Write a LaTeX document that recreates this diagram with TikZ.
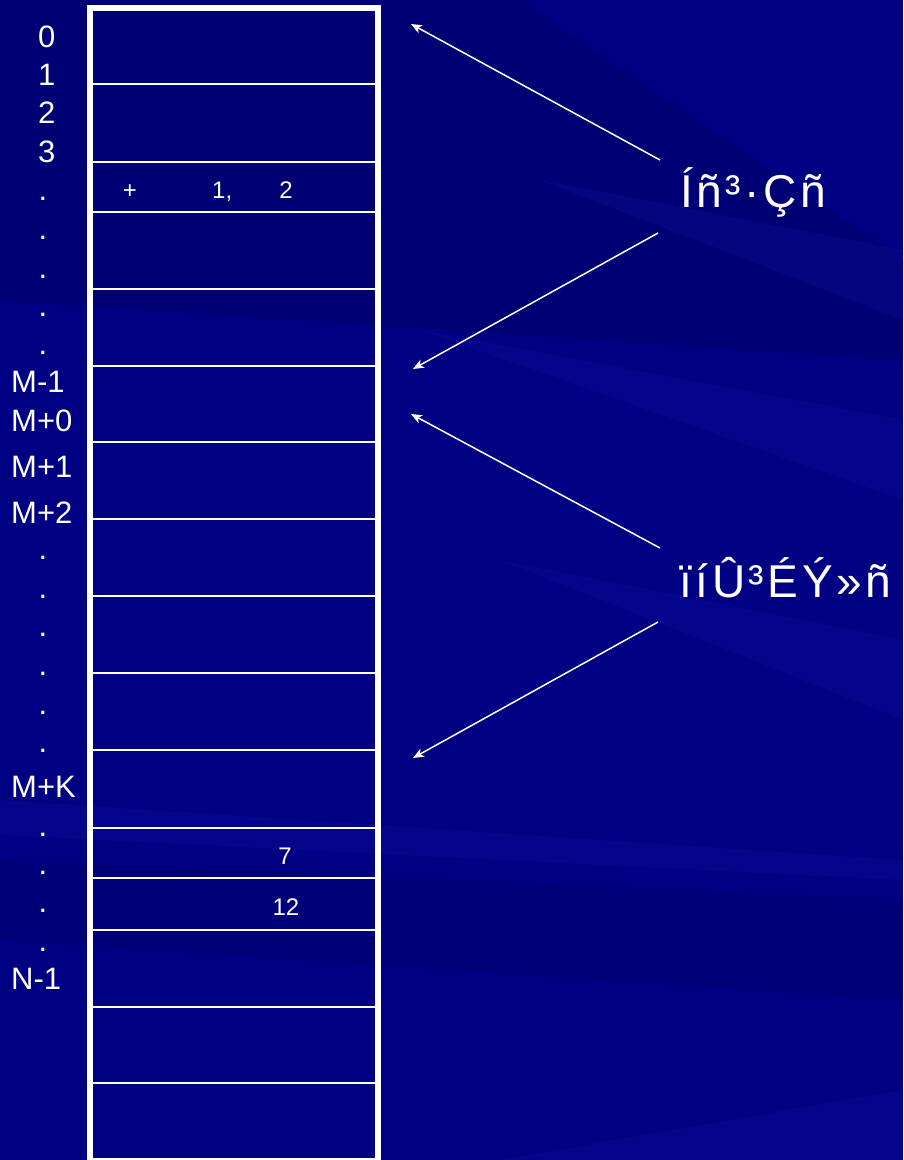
\documentclass[tikz,border=0pt]{standalone}
\usepackage{fontspec}
\setmainfont{Liberation Sans}
\usetikzlibrary{arrows.meta}
\definecolor{bgbase}{RGB}{0,0,130}
\definecolor{bgdark}{RGB}{0,0,95}
\definecolor{bglight}{RGB}{40,40,200}
\begin{document}
\begin{tikzpicture}[x=1pt,y=-1pt,
  lbl/.style={text=white,font=\fontsize{31}{36}\selectfont,anchor=base west,inner sep=0pt},
  cell/.style={text=white,font=\fontsize{24}{28}\selectfont,anchor=base,inner sep=0pt},
  big/.style={text=white,font=\fontsize{46}{52}\selectfont\addfontfeature{LetterSpace=8},anchor=base west,inner sep=0pt},
  ptr/.style={draw=white,line width=1.5pt,-{Stealth[length=11pt,width=9pt,inset=3pt]}},
  rowline/.style={draw=white,line width=2.5pt},
  streak/.style={fill=bglight,opacity=0.14},
  shade/.style={fill=bgdark,opacity=0.35}]
\useasboundingbox (0,0) rectangle (903,1160);
\clip (0,0) rectangle (903,1160);
% background
\fill[bgbase] (0,0) rectangle (903,1160);
\fill[shade] (0,0) -- (520,0) -- (903,260) -- (903,330) -- (0,130) -- cycle;
\fill[shade] (0,130) -- (903,330) -- (903,360) -- (0,300) -- cycle;
\fill[streak] (540,180) -- (903,250) -- (903,320) -- cycle;
\fill[streak] (420,330) -- (903,420) -- (903,500) -- cycle;
\fill[streak] (500,560) -- (903,640) -- (903,720) -- cycle;
\fill[streak] (0,800) -- (903,860) -- (903,880) -- (0,835) -- cycle;
\fill[streak] (500,1160) -- (903,1090) -- (903,1160) -- cycle;
\fill[bgdark,opacity=0.25] (0,860) -- (903,900) -- (903,1000) -- (0,940) -- cycle;
% memory box
\draw[white,line width=6pt] (90,8) rectangle (378,1161);
\foreach \y in {84,162,212,289,366,442,519,596,673,750,828,878,930,1007,1083}
  \draw[rowline] (93,\y) -- (375,\y);
% index labels
\node[lbl] (l0) at (38,47) {0};
\node[lbl] (l1) at (38,85) {1};
\node[lbl] (l2) at (38,123) {2};
\node[lbl] (l3) at (38,162) {3};
\foreach \y [count=\i] in {200,239,278,316,354} \node[lbl] (da\i) at (38.5,\y) {.};
\node[lbl] (lm1) at (11,392) {M-1};
\node[lbl] (lm0) at (11,431) {M+0};
\node[lbl] (lp1) at (11,477) {M+1};
\node[lbl] (lp2) at (11,523) {M+2};
\foreach \y [count=\i] in {559,598,636,675,714,752} \node[lbl] (db\i) at (38.5,\y) {.};
\node[lbl] (lmk) at (11,797) {M+K};
\foreach \y [count=\i] in {836,874,912,951} \node[lbl] (dc\i) at (38.5,\y) {.};
\node[lbl] (ln1) at (11,989) {N-1};
% cell contents
\node[cell] (cplus) at (130,198) {+};
\node[cell,anchor=base west] (cone) at (212,198) {1,};
\node[cell] (ctwo) at (286,198) {2};
\node[cell] (cseven) at (285,864) {7};
\node[cell] (ctwelve) at (286,915) {12};
% right labels
\node[big] (t1) at (680,207) {Íñ³·Çñ};
\node[big] (t2) at (679,597) {ïíÛ³ÉÝ»ñ};
% arrows
\coordinate (s1) at (660,160); \coordinate (e1) at (411,24);
\coordinate (s2) at (658,233); \coordinate (e2) at (413,369);
\coordinate (s3) at (660,548); \coordinate (e3) at (411,414);
\coordinate (s4) at (658,622); \coordinate (e4) at (413,758);
\draw[ptr] (s1) -- (e1);
\draw[ptr] (s2) -- (e2);
\draw[ptr] (s3) -- (e3);
\draw[ptr] (s4) -- (e4);
\end{tikzpicture}
\end{document}
